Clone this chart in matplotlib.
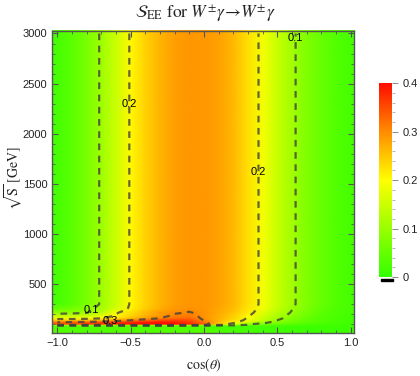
import numpy as np
import matplotlib
matplotlib.use("Agg")
import matplotlib.pyplot as plt
from matplotlib.colors import LinearSegmentedColormap, Normalize
from matplotlib.image import NonUniformImage
from matplotlib.patches import Rectangle
from matplotlib.ticker import MultipleLocator

# ---- data ----
cos_theta = [-1.0, -0.9, -0.8, -0.7, -0.6, -0.5, -0.4, -0.3, -0.2, -0.1, 0.0,
             0.1, 0.2, 0.3, 0.4, 0.5, 0.6, 0.7, 0.8, 0.9, 1.0]
sqrt_s = [75, 86, 94, 102, 112, 125, 140, 160, 185, 215, 250, 300, 3000]

s_75 = [0.03, 0.03, 0.03, 0.03, 0.03, 0.03, 0.03, 0.03, 0.03, 0.03, 0.03,
        0.025, 0.02, 0.02, 0.015, 0.015, 0.01, 0.01, 0.01, 0.01, 0.01]
s_86 = [0.08, 0.08, 0.085, 0.09, 0.09, 0.095, 0.095, 0.095, 0.095, 0.09, 0.085,
        0.07, 0.06, 0.05, 0.04, 0.03, 0.025, 0.02, 0.015, 0.01, 0.01]
s_94 = [0.32, 0.325, 0.33, 0.34, 0.35, 0.36, 0.365, 0.37, 0.365, 0.35, 0.31,
        0.23, 0.155, 0.095, 0.07, 0.05, 0.035, 0.025, 0.02, 0.015, 0.01]
s_102 = [0.34, 0.345, 0.355, 0.365, 0.38, 0.39, 0.395, 0.40, 0.395, 0.375, 0.325,
         0.25, 0.17, 0.11, 0.08, 0.06, 0.045, 0.03, 0.022, 0.015, 0.012]
s_112 = [0.33, 0.335, 0.345, 0.355, 0.37, 0.385, 0.39, 0.395, 0.39, 0.37, 0.32,
         0.255, 0.2, 0.14, 0.105, 0.075, 0.055, 0.04, 0.028, 0.02, 0.015]
s_125 = [0.28, 0.288, 0.295, 0.305, 0.32, 0.34, 0.36, 0.37, 0.37, 0.355, 0.31,
         0.26, 0.215, 0.175, 0.125, 0.088, 0.06, 0.042, 0.03, 0.02, 0.015]
s_140 = [0.23, 0.232, 0.237, 0.25, 0.272, 0.30, 0.32, 0.34, 0.35, 0.345, 0.298,
         0.265, 0.23, 0.185, 0.145, 0.10, 0.068, 0.047, 0.032, 0.022, 0.015]
s_160 = [0.18, 0.18, 0.185, 0.197, 0.218, 0.25, 0.28, 0.30, 0.318, 0.322, 0.292,
         0.268, 0.238, 0.195, 0.15, 0.112, 0.08, 0.05, 0.033, 0.022, 0.015]
s_185 = [0.13, 0.13, 0.14, 0.17, 0.205, 0.235, 0.265, 0.29, 0.305, 0.31, 0.292,
         0.27, 0.243, 0.205, 0.16, 0.118, 0.087, 0.058, 0.037, 0.024, 0.016]
s_215 = [0.085, 0.09, 0.098, 0.13, 0.195, 0.225, 0.26, 0.285, 0.297, 0.302, 0.293,
         0.274, 0.25, 0.215, 0.175, 0.13, 0.095, 0.065, 0.04, 0.025, 0.02]
s_250 = [0.05, 0.065, 0.088, 0.115, 0.16, 0.21, 0.245, 0.27, 0.29, 0.295, 0.29,
         0.275, 0.255, 0.22, 0.185, 0.14, 0.102, 0.07, 0.045, 0.028, 0.02]
s_300 = [0.02, 0.04, 0.07, 0.105, 0.15, 0.205, 0.24, 0.265, 0.283, 0.29, 0.29,
         0.28, 0.26, 0.225, 0.19, 0.145, 0.108, 0.075, 0.05, 0.03, 0.02]
s_3000 = [0.02, 0.04, 0.07, 0.105, 0.15, 0.205, 0.24, 0.265, 0.283, 0.29, 0.29,
          0.28, 0.26, 0.225, 0.19, 0.145, 0.108, 0.075, 0.05, 0.03, 0.02]

contour_levels = [0.1, 0.2, 0.3]
cbar_ticks = [0, 0.1, 0.2, 0.3, 0.4]
cbar_labels = ["0", "0.1", "0.2", "0.3", "0.4"]
x_ticks = [-1.0, -0.5, 0.0, 0.5, 1.0]
y_ticks = [500, 1000, 1500, 2000, 2500, 3000]

Z = np.array([s_75, s_86, s_94, s_102, s_112, s_125, s_140, s_160, s_185,
              s_215, s_250, s_300, s_3000])
X = np.array(cos_theta)
Y = np.array(sqrt_s, dtype=float)

# ---- style ----
plt.rcParams["mathtext.fontset"] = "stix"
cmap = LinearSegmentedColormap.from_list(
    "gyor", [(0.0, (0.2, 1.0, 0.0)), (0.5, (1.0, 1.0, 0.0)),
             (0.75, (1.0, 0.55, 0.0)), (1.0, (1.0, 0.05, 0.0))])
norm = Normalize(0, 0.4)

fig = plt.figure(figsize=(4.2, 3.76), dpi=100)
ax = fig.add_axes([0.1245, 0.1144, 0.7183, 0.8032])

im = NonUniformImage(ax, interpolation="bilinear", cmap=cmap, norm=norm,
                     extent=(X[0], X[-1], Y[0], Y[-1]))
im.set_data(X, Y, Z)
ax.add_image(im)

label_spots = {0.1: [(0.634, 2955), (-0.77, 250)],
               0.2: [(-0.504, 2300), (0.382, 1620)],
               0.3: [(-0.64, 130)]}
for lev in contour_levels:
    cs = ax.contour(X, Y, Z, levels=[lev],
                    colors=[(0.25, 0.25, 0.25, 0.8)], linewidths=1.6,
                    linestyles=[(0, (3, 2.5))])
    cs.clabel(inline=False, fontsize=8, colors="black", fmt="%.1f",
              manual=label_spots[lev])
    for t in cs.labelTexts:
        t.set_rotation(0)
        t.set_fontfamily("Liberation Sans")

ax.set_xlim(-1.034, 1.022)
ax.set_ylim(13, 3025)
ax.set_xticks(x_ticks)
ax.set_yticks(y_ticks)
ax.xaxis.set_minor_locator(MultipleLocator(0.1))
ax.yaxis.set_minor_locator(MultipleLocator(100))
ax.xaxis.set_major_formatter(matplotlib.ticker.FuncFormatter(
    lambda v, p: ("\u2212" if v < 0 else "") + f"{abs(v):.1f}"))
ax.tick_params(which="both", direction="in", top=True, right=True,
               colors="#555555", labelcolor="#222222", labelsize=8)
ax.tick_params(which="major", length=4.5, width=0.8)
ax.tick_params(which="minor", length=2.5, width=0.6)
for lab in ax.get_xticklabels() + ax.get_yticklabels():
    lab.set_fontfamily("Liberation Sans")
for sp in ax.spines.values():
    sp.set_color("#555555")
    sp.set_linewidth(1.0)

ax.set_xlabel(r"cos($\theta$)", fontfamily="STIXGeneral", fontsize=10,
              color="#222222")
ax.set_ylabel(r"$\sqrt{\mathrm{S}}$ [GeV]", fontfamily="STIXGeneral",
              fontsize=10, color="#222222")
ax.xaxis.set_label_coords(0.503, -0.079)
ax.yaxis.set_label_coords(-0.092, 0.512)
fig.text(205 / 420, 1 - 13 / 376,
         r"$\mathcal{S}_{\rm EE}$ for $W^{\pm}\gamma\!\rightarrow\! W^{\pm}\gamma$",
         ha="center", va="center", fontsize=12.5, fontfamily="STIXGeneral",
         color="#222222")

cax = fig.add_axes([379 / 420, 1 - 277 / 376, 13 / 420, (277 - 83.3) / 376])
cb = fig.colorbar(im, cax=cax, ticks=cbar_ticks)
cb.outline.set_visible(False)
cb.ax.yaxis.set_minor_locator(MultipleLocator(0.02))
cb.ax.tick_params(which="major", length=4, width=0.6, colors="#777777",
                  labelcolor="#222222", labelsize=8)
cb.ax.tick_params(which="minor", length=2, width=0.5, colors="#999999")
cb.ax.set_yticklabels(cbar_labels, fontfamily="Liberation Sans")
fig.patches.append(Rectangle((381 / 420, 1 - 281.3 / 376), 12 / 420, 2.3 / 376,
                             transform=fig.transFigure, color="black"))

fig.savefig("out.png", dpi=100)
